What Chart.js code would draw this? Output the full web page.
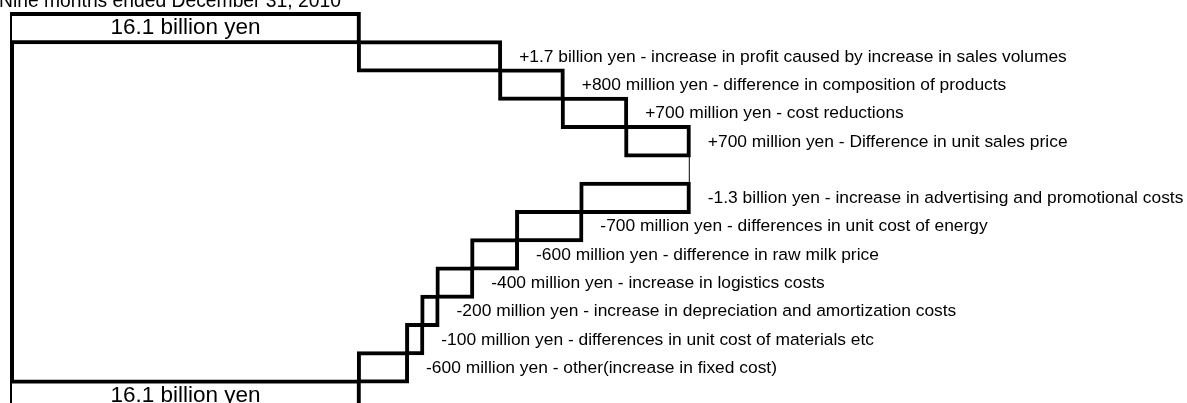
<!DOCTYPE html>
<html>
<head>
<meta charset="utf-8">
<script src="https://cdn.jsdelivr.net/npm/chart.js@4.4.1/dist/chart.umd.min.js"></script>
<style>
	html, body { margin: 0; padding: 0; background: #fff; overflow: hidden; }
	body { width: 1187px; height: 403px; position: relative; }
	#wrap { position: absolute; left: -1px; top: -20px; width: 1200px; height: 440px; }
</style>
</head>
<body>
<div id="wrap"><canvas id="myChart"></canvas></div>
<script>
(() => {
	"use strict";

	const title = "Nine months ended December 31, 2010";

	// one row per bar, top to bottom (row 6 is the empty join at the peak)
	const categories = [
		"16.1 billion yen",
		"+1.7 billion yen - increase in profit caused by increase in sales volumes",
		"+800 million yen - difference in composition of products",
		"+700 million yen - cost reductions",
		"+700 million yen - Difference in unit sales price",
		"",
		"-1.3 billion yen - increase in advertising and promotional costs",
		"-700 million yen - differences in unit cost of energy",
		"-600 million yen - difference in raw milk price",
		"-400 million yen - increase in logistics costs",
		"-200 million yen - increase in depreciation and amortization costs",
		"-100 million yen - differences in unit cost of materials etc",
		"-600 million yen - other(increase in fixed cost)",
		"16.1 billion yen",
	];

	// operating income, billion yen
	const totals = [16.1, null, null, null, null, null, null, null, null, null, null, null, null, 16.1];
	const changes = [null, 1.67, 0.74, 0.75, 0.74, 0, -1.27, -0.76, -0.53, -0.41, -0.18, -0.18, -0.57, null];

	// floating bars [start, end] built from the running total
	const bars = [];
	const joins = [];
	let running = 0;
	for (let i = 0; i < categories.length; i++) {
		if (totals[i] !== null) {
			bars.push([0, totals[i]]);
			joins.push(null);
			running = totals[i];
		} else if (changes[i] === 0) {
			bars.push(null);
			joins.push([running, running]);
		} else {
			bars.push([running, running + changes[i]]);
			joins.push(null);
			running += changes[i];
		}
	}

	const FONT = "'Liberation Sans', Arial, sans-serif";

	const barLabels = {
		id: "barLabels",
		afterDatasetsDraw(chart) {
			const c = chart.ctx;
			const area = chart.chartArea;
			const meta = chart.getDatasetMeta(0);
			c.save();
			c.fillStyle = "#000";
			c.textBaseline = "middle";
			meta.data.forEach((bar, i) => {
				if (bars[i] === null || !categories[i]) return;
				const lo = Math.max(Math.min(bar.x, bar.base), area.left);
				const hi = Math.max(bar.x, bar.base);
				if (totals[i] !== null) {
					c.font = "22.5px " + FONT;
					c.textAlign = "center";
					c.fillText(categories[i], (lo + hi) / 2, bar.y);
				} else {
					c.font = "17.4px " + FONT;
					c.textAlign = "left";
					c.fillText(categories[i], hi + 19, bar.y + 0.5);
				}
			});
			c.restore();
		},
	};

	const ctx = document.getElementById("myChart");
	// eslint-disable-next-line no-unused-vars
	const myChart = new Chart(ctx, {
		type: "bar",
		data: {
			labels: categories,
			datasets: [
				{
					data: bars,
					backgroundColor: "#ffffff",
					borderColor: "#000000",
					borderWidth: 4,
					borderSkipped: false,
					inflateAmount: 2,
					grouped: false,
					categoryPercentage: 1,
					barPercentage: 1,
					clip: { left: 0, top: 6, right: 6, bottom: 6 },
				},
				{
					data: joins,
					backgroundColor: "#000000",
					borderWidth: 0,
					minBarLength: 1,
					inflateAmount: 0,
					grouped: false,
					categoryPercentage: 1,
					barPercentage: 1,
				},
			],
		},
		options: {
			indexAxis: "y",
			responsive: true,
			maintainAspectRatio: false,
			animation: false,
			layout: {
				padding: { top: 0, right: 2.6, bottom: 10.1, left: 0 },
			},
			plugins: {
				legend: { display: false },
				tooltip: { enabled: false },
				title: {
					display: true,
					text: title,
					align: "start",
					color: "#000",
					font: { family: FONT, size: 19.3, weight: "normal" },
					padding: { top: 10.3, bottom: 0.54 },
				},
			},
			scales: {
				x: {
					display: false,
					min: 12,
					max: 26,
				},
				y: {
					display: true,
					z: 1,
					grid: { display: false, drawTicks: false },
					border: { display: true, color: "#000", width: 4 },
					ticks: { display: false },
					afterFit: (scale) => {
						scale.width = 13;
					},
				},
			},
		},
		plugins: [barLabels],
	});
})();
</script>
</body>
</html>
